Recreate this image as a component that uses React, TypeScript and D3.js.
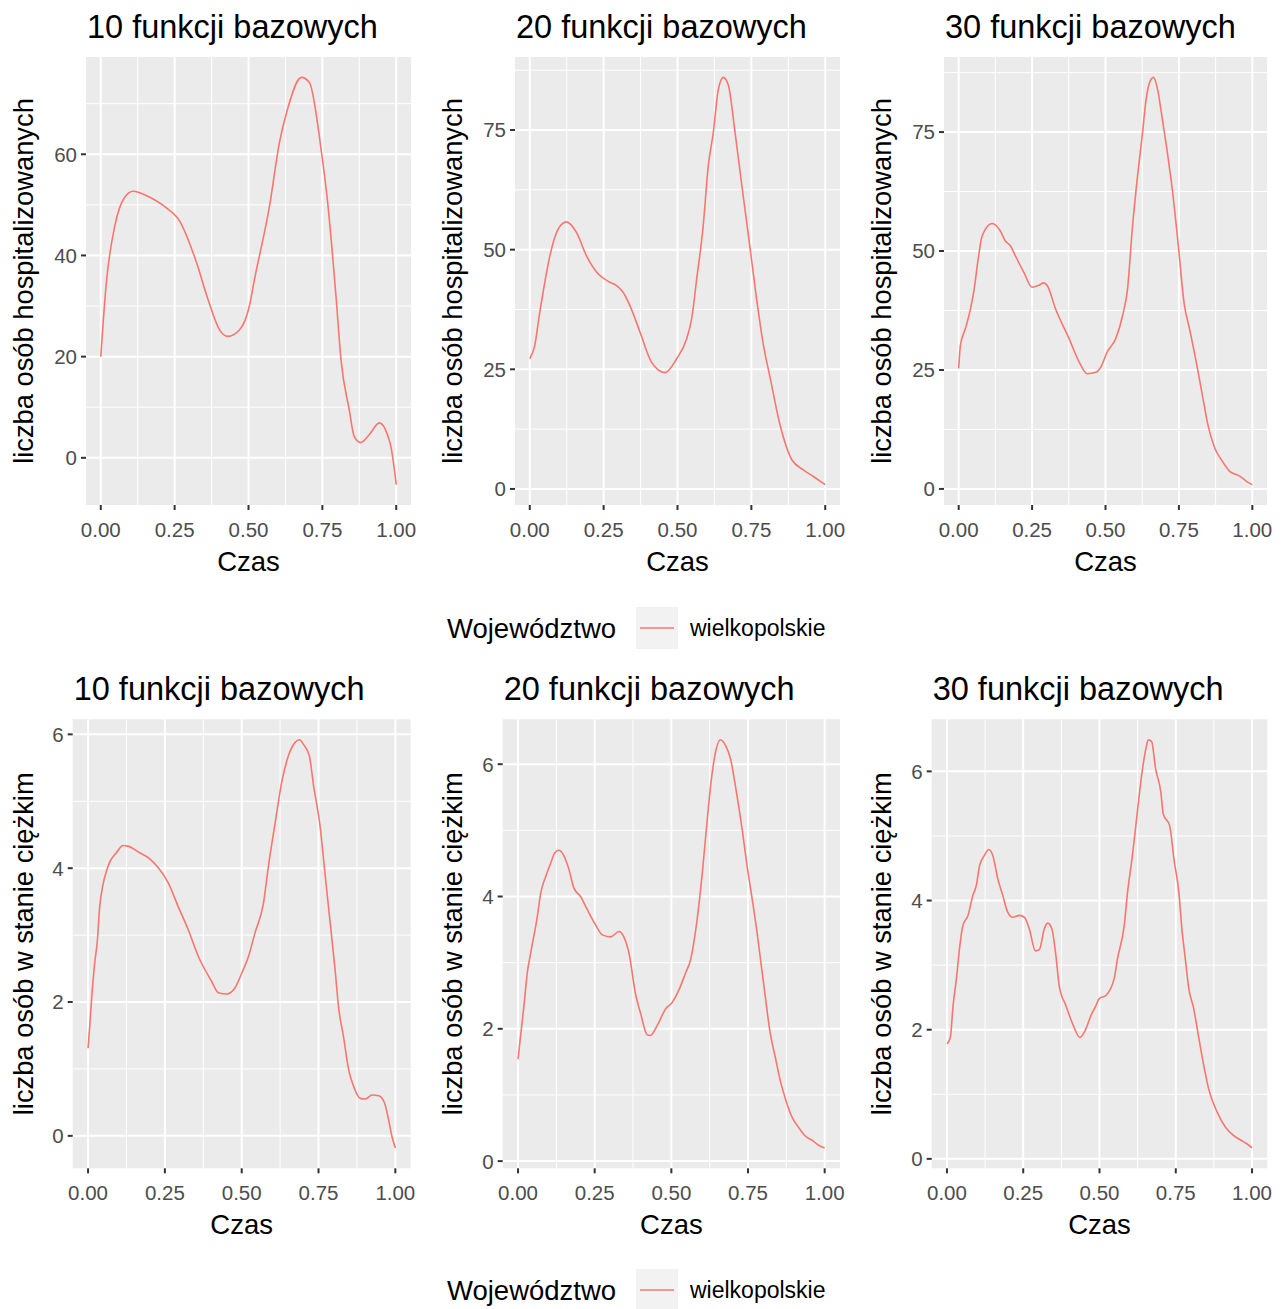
import React from 'react';
import * as d3 from 'd3';

// ---------- DATA ----------
const titles = ['10 funkcji bazowych', '20 funkcji bazowych', '30 funkcji bazowych'];
const yLabelHosp = 'liczba osób hospitalizowanych';
const yLabelIcu = 'liczba osób w stanie ciężkim';
const xLabel = 'Czas';
const legendTitle = 'Województwo';
const seriesName = 'wielkopolskie';

const xTicks = [0, 0.25, 0.5, 0.75, 1];
const xTickLabels = ['0.00', '0.25', '0.50', '0.75', '1.00'];
const hospTicks10 = [0, 20, 40, 60];
const hospTicks20 = [0, 25, 50, 75];
const hospTicks30 = [0, 25, 50, 75];
const icuTicks = [0, 2, 4, 6];

const timeH10 = [0, 0.019, 0.047, 0.081, 0.11, 0.132, 0.166, 0.22, 0.267, 0.324, 0.363, 0.402, 0.43, 0.47, 0.503, 0.52, 0.571, 0.605, 0.632, 0.679, 0.706, 0.747, 0.767, 0.797, 0.813, 0.841, 0.858, 0.88, 0.909, 0.943, 0.97, 0.982, 1.0];
const hosp10 = [20, 34.7, 45.7, 51.5, 52.7, 52.4, 51.5, 49.5, 46.8, 38.6, 31.3, 25.3, 24, 25.3, 30, 35.2, 49.7, 62.4, 68.9, 75.2, 74.2, 60.4, 51, 31.3, 19.4, 9.5, 4.2, 3, 4.6, 6.9, 4.6, 2.2, -5.3];

const timeH20 = [0, 0.017, 0.034, 0.045, 0.068, 0.096, 0.124, 0.158, 0.192, 0.232, 0.271, 0.294, 0.316, 0.339, 0.373, 0.412, 0.458, 0.497, 0.531, 0.548, 0.565, 0.587, 0.604, 0.621, 0.638, 0.655, 0.672, 0.695, 0.718, 0.746, 0.774, 0.791, 0.814, 0.847, 0.887, 0.926, 0.96, 1.0];
const hosp20 = [27.2, 30, 37, 41.1, 48.7, 54.3, 55.8, 53.6, 48.7, 44.9, 43.2, 42.5, 41.1, 38.3, 32.8, 26.5, 24.3, 27.2, 31.4, 35.6, 43.9, 55, 67.4, 74.4, 83.4, 86, 84.4, 74.4, 63.3, 50.1, 36.9, 30, 23.1, 13.4, 6.1, 4, 2.6, 0.9];

const timeH30 = [0, 0.006, 0.023, 0.04, 0.051, 0.068, 0.08, 0.114, 0.142, 0.159, 0.176, 0.193, 0.222, 0.25, 0.273, 0.29, 0.302, 0.33, 0.376, 0.41, 0.438, 0.467, 0.484, 0.506, 0.535, 0.558, 0.575, 0.592, 0.609, 0.626, 0.638, 0.649, 0.663, 0.678, 0.689, 0.706, 0.729, 0.746, 0.769, 0.786, 0.809, 0.832, 0.849, 0.872, 0.895, 0.923, 0.957, 0.98, 1];
const hosp30 = [25.3, 30.2, 33.7, 37.8, 41.3, 49, 53.2, 55.8, 54.2, 52.1, 51.1, 49, 45.5, 42.4, 42.8, 43.3, 42.7, 37.8, 31.6, 26.7, 24.2, 24.5, 25.6, 28.8, 31.6, 36.4, 42, 55.2, 65.7, 74.8, 81.7, 85.2, 86.5, 83.8, 79.6, 72.7, 62.2, 52.4, 38.5, 33.7, 26.7, 19, 13.4, 8.6, 6.1, 3.7, 2.7, 1.6, 0.9];

const timeI10 = [0, 0.005, 0.011, 0.022, 0.03, 0.038, 0.065, 0.092, 0.114, 0.13, 0.168, 0.201, 0.228, 0.261, 0.293, 0.326, 0.359, 0.402, 0.424, 0.451, 0.478, 0.5, 0.522, 0.543, 0.571, 0.587, 0.609, 0.63, 0.652, 0.674, 0.688, 0.701, 0.72, 0.734, 0.755, 0.772, 0.788, 0.804, 0.815, 0.831, 0.848, 0.864, 0.886, 0.902, 0.924, 0.946, 0.965, 0.978, 0.989, 1];
const icu10 = [1.31, 1.61, 2.01, 2.6, 2.9, 3.43, 4.03, 4.23, 4.34, 4.33, 4.23, 4.14, 4.01, 3.78, 3.43, 3.08, 2.68, 2.31, 2.14, 2.12, 2.21, 2.43, 2.68, 3.03, 3.48, 4.03, 4.68, 5.28, 5.68, 5.88, 5.92, 5.85, 5.68, 5.23, 4.63, 3.88, 3.18, 2.48, 1.93, 1.49, 0.99, 0.74, 0.56, 0.55, 0.61, 0.6, 0.49, 0.24, -0.01, -0.18];

const timeI20 = [0, 0.009, 0.02, 0.03, 0.041, 0.063, 0.074, 0.09, 0.107, 0.12, 0.134, 0.15, 0.166, 0.182, 0.204, 0.226, 0.253, 0.275, 0.302, 0.329, 0.345, 0.362, 0.383, 0.4, 0.421, 0.432, 0.454, 0.481, 0.503, 0.524, 0.546, 0.563, 0.584, 0.601, 0.617, 0.628, 0.644, 0.66, 0.677, 0.693, 0.709, 0.731, 0.747, 0.764, 0.78, 0.791, 0.801, 0.823, 0.839, 0.855, 0.872, 0.894, 0.915, 0.937, 0.964, 0.98, 1];
const icu20 = [1.54, 1.92, 2.38, 2.84, 3.14, 3.7, 4.05, 4.3, 4.51, 4.66, 4.7, 4.61, 4.41, 4.13, 4.0, 3.8, 3.57, 3.42, 3.39, 3.47, 3.39, 3.14, 2.53, 2.23, 1.91, 1.9, 2.05, 2.3, 2.4, 2.58, 2.84, 3.05, 3.65, 4.36, 5.16, 5.67, 6.18, 6.37, 6.28, 6.08, 5.67, 5.01, 4.46, 3.95, 3.44, 3.04, 2.68, 1.92, 1.57, 1.22, 0.94, 0.66, 0.51, 0.38, 0.3, 0.24, 0.2];

const timeI30 = [0, 0.011, 0.02, 0.031, 0.041, 0.052, 0.069, 0.085, 0.096, 0.107, 0.123, 0.137, 0.15, 0.167, 0.183, 0.199, 0.216, 0.238, 0.254, 0.27, 0.29, 0.303, 0.319, 0.33, 0.344, 0.357, 0.368, 0.39, 0.412, 0.436, 0.455, 0.472, 0.488, 0.499, 0.521, 0.548, 0.559, 0.581, 0.592, 0.608, 0.624, 0.641, 0.652, 0.66, 0.671, 0.684, 0.701, 0.709, 0.73, 0.744, 0.76, 0.771, 0.78, 0.793, 0.809, 0.826, 0.842, 0.858, 0.886, 0.913, 0.94, 0.967, 0.984, 1];
const icu30 = [1.78, 1.88, 2.37, 2.79, 3.25, 3.61, 3.77, 4.08, 4.23, 4.54, 4.7, 4.79, 4.7, 4.33, 4.08, 3.82, 3.74, 3.77, 3.74, 3.56, 3.22, 3.24, 3.56, 3.65, 3.56, 3.15, 2.68, 2.37, 2.09, 1.88, 2.01, 2.22, 2.37, 2.48, 2.53, 2.79, 3.1, 3.61, 4.13, 4.7, 5.37, 6.04, 6.35, 6.49, 6.46, 6.04, 5.68, 5.34, 5.16, 4.64, 4.13, 3.51, 3.15, 2.63, 2.32, 1.86, 1.44, 1.08, 0.72, 0.49, 0.36, 0.28, 0.23, 0.17];

// ---------- STYLE / LAYOUT ----------
const W = 1287;
const H = 1309;
const FONT = '"Liberation Sans", Arial, "DejaVu Sans", sans-serif';
const LINE_COLOR = '#F8766D';
const PANEL_BG = '#EBEBEB';

type PanelSpec = {
  colLeft: number; x0: number; x1: number; y0: number; y1: number;
  title: string; yLabel: string; t: number[]; v: number[]; yTicks: number[];
};

const topY0 = 57, topY1 = 505;
const botY0 = 719.3, botY1 = 1168.3;

const panels: PanelSpec[] = [
  { colLeft: 0, x0: 86, x1: 411, y0: topY0, y1: topY1, title: titles[0], yLabel: yLabelHosp, t: timeH10, v: hosp10, yTicks: hospTicks10 },
  { colLeft: 429, x0: 515, x1: 840, y0: topY0, y1: topY1, title: titles[1], yLabel: yLabelHosp, t: timeH20, v: hosp20, yTicks: hospTicks20 },
  { colLeft: 858, x0: 944, x1: 1267, y0: topY0, y1: topY1, title: titles[2], yLabel: yLabelHosp, t: timeH30, v: hosp30, yTicks: hospTicks30 },
  { colLeft: 0, x0: 72.7, x1: 410.7, y0: botY0, y1: botY1, title: titles[0], yLabel: yLabelIcu, t: timeI10, v: icu10, yTicks: icuTicks },
  { colLeft: 429, x0: 502.7, x1: 840, y0: botY0, y1: botY1, title: titles[1], yLabel: yLabelIcu, t: timeI20, v: icu20, yTicks: icuTicks },
  { colLeft: 858, x0: 931.7, x1: 1267.3, y0: botY0, y1: botY1, title: titles[2], yLabel: yLabelIcu, t: timeI30, v: icu30, yTicks: icuTicks },
];

function Panel({ p }: { p: PanelSpec }) {
  const x = d3.scaleLinear().domain([-0.05, 1.05]).range([p.x0, p.x1]);
  const [mn, mx] = d3.extent(p.v) as [number, number];
  const pad = (mx - mn) * 0.05;
  const y = d3.scaleLinear().domain([mn - pad, mx + pad]).range([p.y1, p.y0]);
  const step = p.yTicks[1] - p.yTicks[0];
  const yMinor: number[] = [];
  for (let v = p.yTicks[0] - step / 2; v <= mx + pad; v += step) {
    if (v >= mn - pad) yMinor.push(v);
  }
  const xMinor = xTicks.slice(0, -1).map((d, i) => (d + xTicks[i + 1]) / 2);
  const pts: [number, number][] = p.t.map((t, i) => [t, p.v[i]]);
  const line = d3.line<[number, number]>()
    .x(d => x(d[0]))
    .y(d => y(d[1]))
    .curve(d3.curveMonotoneX);
  const cy = (p.y0 + p.y1) / 2;
  const cx = (p.x0 + p.x1) / 2;
  return (
    <g>
      <rect x={p.x0} y={p.y0} width={p.x1 - p.x0} height={p.y1 - p.y0} fill={PANEL_BG} />
      {yMinor.map((v, i) => (
        <line key={'ym' + i} x1={p.x0} x2={p.x1} y1={y(v)} y2={y(v)} stroke="#fff" strokeWidth={1} />
      ))}
      {xMinor.map((v, i) => (
        <line key={'xm' + i} x1={x(v)} x2={x(v)} y1={p.y0} y2={p.y1} stroke="#fff" strokeWidth={1} />
      ))}
      {p.yTicks.map((v, i) => (
        <line key={'yM' + i} x1={p.x0} x2={p.x1} y1={y(v)} y2={y(v)} stroke="#fff" strokeWidth={2} />
      ))}
      {xTicks.map((v, i) => (
        <line key={'xM' + i} x1={x(v)} x2={x(v)} y1={p.y0} y2={p.y1} stroke="#fff" strokeWidth={2} />
      ))}
      <path d={line(pts) || ''} fill="none" stroke={LINE_COLOR} strokeWidth={1.6} />
      {p.yTicks.map((v, i) => (
        <g key={'yt' + i}>
          <line x1={p.x0 - 5} x2={p.x0} y1={y(v)} y2={y(v)} stroke="#333" strokeWidth={2} />
          <text x={p.x0 - 9} y={y(v)} dy="0.36em" textAnchor="end" fontSize={20.5} fill="#4D4D4D" fontFamily={FONT}>{v}</text>
        </g>
      ))}
      {xTicks.map((v, i) => (
        <g key={'xt' + i}>
          <line x1={x(v)} x2={x(v)} y1={p.y1} y2={p.y1 + 5} stroke="#333" strokeWidth={2} />
          <text x={x(v)} y={p.y1 + 32} textAnchor="middle" fontSize={20.5} fill="#4D4D4D" fontFamily={FONT}>{xTickLabels[i]}</text>
        </g>
      ))}
      <text x={cx} y={p.y1 + 65.5} textAnchor="middle" fontSize={27.5} fill="#000" fontFamily={FONT}>{xLabel}</text>
      <text transform={`translate(${p.colLeft + 33},${cy}) rotate(-90)`} textAnchor="middle" fontSize={27.3} fill="#000" fontFamily={FONT}>{p.yLabel}</text>
      <text x={p.x0 + 1} y={p.y0 - 19.5} fontSize={32.5} fill="#000" fontFamily={FONT}>{p.title}</text>
    </g>
  );
}

function Legend({ cy }: { cy: number }) {
  return (
    <g>
      <text x={447} y={cy + 9.5} fontSize={27.5} fill="#000" fontFamily={FONT}>{legendTitle}</text>
      <rect x={636} y={cy - 21} width={42} height={42} fill="#F2F2F2" />
      <line x1={640} x2={674} y1={cy} y2={cy} stroke={LINE_COLOR} strokeWidth={1.6} />
      <text x={690} y={cy + 7.5} fontSize={23} fill="#000" fontFamily={FONT}>{seriesName}</text>
    </g>
  );
}

export default function App() {
  return (
    <svg width={W} height={H} style={{ position: 'absolute', left: 0, top: 0, background: '#fff' }}>
      <rect x={0} y={0} width={W} height={H} fill="#fff" />
      {panels.map((p, i) => <Panel key={i} p={p} />)}
      <Legend cy={628} />
      <Legend cy={1290} />
    </svg>
  );
}
